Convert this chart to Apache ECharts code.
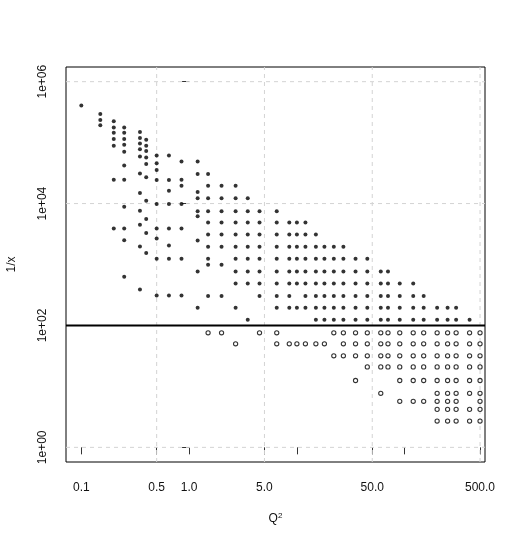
<!DOCTYPE html>
<html><head><meta charset="utf-8">
<script src="https://cdn.jsdelivr.net/npm/echarts@6/dist/echarts.min.js"></script>
<style>html,body{margin:0;padding:0;background:#fff}#c{width:518px;height:545px}</style>
</head><body><div id="c"></div>
<script>
// Q^2 bins (columns)
const q2Bins = [0.1,0.15,0.2,0.25,0.35,0.4,0.5,0.65,0.85,1.2,1.5,2,2.7,3.5,4.5,6.5,8.5,10,12,15,18,22,27,35,45,60,70,90,120,150,200,250,300,400,500];
// 1/x values above the cut (filled dots), one list per Q^2 bin
const invXAbove = [
  [405000],
  [296000,236000,193000],
  [225000,177000,145000,115000,89000,24600,3900],
  [177000,145000,115000,92000,71000,42000,24600,8900,3900,2500,630],
  [150000,119000,97000,78000,59000,31000,14900,7600,4500,1970,390],
  [111000,89000,73000,57000,44500,27000,11100,5600,3300,1550],
  [61500,46000,35500,24300,9800,3900,2660,1240,311],
  [61500,24300,16300,9800,3900,2050,1240,311],
  [49000,24600,19600,9800,3900,1240,311],
  [49000,30500,15500,12250,7510,6170,2470,768,196],
  [30500,19600,12250,7510,4870,3100,1955,1240,990,305],
  [19600,12250,7510,4870,3100,1955,990,305],
  [19600,12250,7510,4870,3100,1955,1240,768,489,196],
  [12250,7510,4870,3100,1955,1240,768,489,124],
  [7510,4870,3100,1955,1240,768,489,305],
  [7510,4870,3100,1955,1240,768,489,305,196],
  [4870,3100,1955,1240,768,489,305,196],
  [4870,3100,1955,1240,768,489,196],
  [4870,3100,1955,1240,768,489,305,196],
  [3100,1955,1240,768,489,305,196,124],
  [1955,1240,768,489,305,196,124],
  [1955,1240,768,489,305,196,124],
  [1955,1240,768,489,305,196,124],
  [1240,768,489,305,196,124],
  [1240,768,489,305,196,124],
  [768,489,305,196,124],
  [768,489,305,196,124],
  [489,305,196,124],
  [489,305,196,124],
  [305,196,124],
  [196,124],
  [196,124],
  [196,124],
  [124],
  []
];
// 1/x values below the cut (open circles), one list per Q^2 bin
const invXBelow = [
  [],[],[],[],[],[],[],[],[],[],
  [75.7],
  [75.7],
  [50],
  [],
  [75.7],
  [75.7,50],
  [50],
  [50],
  [50],
  [50],
  [50],
  [75.7,31.8],
  [75.7,50,31.8],
  [75.7,50,31.8,12.5],
  [75.7,50,31.8,20.9],
  [75.7,50,31.8,20.9,7.7],
  [75.7,50,31.8,20.9],
  [75.7,50,31.8,20.9,12.5,5.7],
  [75.7,50,31.8,20.9,12.5,5.7],
  [75.7,50,31.8,20.9,12.5,5.7],
  [75.7,50,31.8,20.9,12.5,7.7,5.7,4.2,2.7],
  [75.7,50,31.8,20.9,12.5,7.7,5.7,4.2,2.7],
  [75.7,50,31.8,20.9,12.5,7.7,5.7,4.2,2.7],
  [75.7,50,31.8,20.9,12.5,7.7,4.2,2.7],
  [75.7,50,31.8,20.9,12.5,7.7,5.7,4.2,2.7]
];
const cutValue = 100;
const xTickValues = [0.1,0.5,1,5,10,50,100,500];
const xLabelValues = [0.1,0.5,1,5,50,500];
const xLabelTexts = ['0.1','0.5','1.0','5.0','50.0','500.0'];
const yTickValues = [1,100,1e4,1e6];
const yLabelTexts = ['1e+00','1e+02','1e+04','1e+06'];
const gridXValues = [0.5,5,50,500];
const gridYValues = [1,100,1e4,1e6];
const xRange = [0.0721, 556];
const yRange = [0.575, 1.74e6];

const L = Math.log10;
const X0 = L(xRange[0]), X1 = L(xRange[1]), Y0 = L(yRange[0]), Y1 = L(yRange[1]);
function pts(lists){
  const out = [];
  q2Bins.forEach((q, i) => lists[i].forEach(v => out.push([L(q), L(v)])));
  return out;
}
function findLabel(v, vals, texts){
  for (let i = 0; i < vals.length; i++) if (Math.abs(L(vals[i]) - v) < 1e-6) return texts[i];
  return '';
}
function lineSeries(data, style, z){
  return {type: 'line', data: data, showSymbol: false, symbol: 'none', silent: true, z: z,
    lineStyle: style, emphasis: {disabled: true}, animation: false};
}
const gridStyle = {color: '#d3d3d3', width: 1, type: [4,4]};
const gridSeries = gridXValues.map(v => lineSeries([[L(v), Y0], [L(v), Y1]], gridStyle, 1))
  .concat(gridYValues.map(v => lineSeries([[X0, L(v)], [X1, L(v)]], gridStyle, 1)));
const font = "'Liberation Sans', Arial, Helvetica, sans-serif";
const chart = echarts.init(document.getElementById('c'), null, {renderer: 'canvas'});
chart.setOption({
  animation: false,
  backgroundColor: '#fff',
  grid: {left: 66, top: 67, width: 419, height: 395, outerBoundsMode: 'none', containLabel: false,
    show: true, borderColor: '#000', borderWidth: 1, backgroundColor: 'transparent'},
  xAxis: {
    type: 'value', min: X0, max: X1,
    axisLine: {show: false},
    splitLine: {show: false},
    axisTick: {show: true, inside: false, length: 7, lineStyle: {color: '#333', width: 1}, customValues: xTickValues.map(L)},
    axisLabel: {show: true, margin: 20, color: '#111', fontSize: 12, fontFamily: font,
      customValues: xLabelValues.map(L),
      formatter: v => findLabel(v, xLabelValues, xLabelTexts)},
    name: '{q|Q}{s|2}', nameLocation: 'middle', nameGap: 50,
    nameTextStyle: {rich: {q: {fontSize: 12, fontFamily: font, color: '#111'}, s: {fontSize: 8, fontFamily: font, color: '#111', verticalAlign: 'top', padding: [0,0,6,0]}}}
  },
  yAxis: {
    type: 'value', min: Y0, max: Y1,
    axisLine: {show: false},
    splitLine: {show: false},
    axisTick: {show: true, inside: false, length: 7, lineStyle: {color: '#333', width: 1}, customValues: yTickValues.map(L)},
    axisLabel: {show: true, rotate: 90, margin: 17, color: '#111', fontSize: 12, fontFamily: font,
      customValues: yTickValues.map(L),
      formatter: v => findLabel(v, yTickValues, yLabelTexts)},
    name: '1/x', nameLocation: 'middle', nameGap: 48, nameRotate: 90,
    nameTextStyle: {fontSize: 12, fontFamily: font, color: '#111'}
  },
  series: gridSeries.concat([
    lineSeries([[X0, L(cutValue)], [X1, L(cutValue)]], {color: '#000', width: 2, type: 'solid'}, 3),
    {
      type: 'scatter', z: 4, symbol: 'circle', symbolSize: 4,
      itemStyle: {color: '#000'},
      data: pts(invXAbove)
    },
    {
      type: 'scatter', z: 4, symbol: 'circle', symbolSize: 4.2,
      itemStyle: {color: '#fff', borderColor: '#000', borderWidth: 1.1},
      data: pts(invXBelow)
    }
  ])
});
</script>
</body></html>
